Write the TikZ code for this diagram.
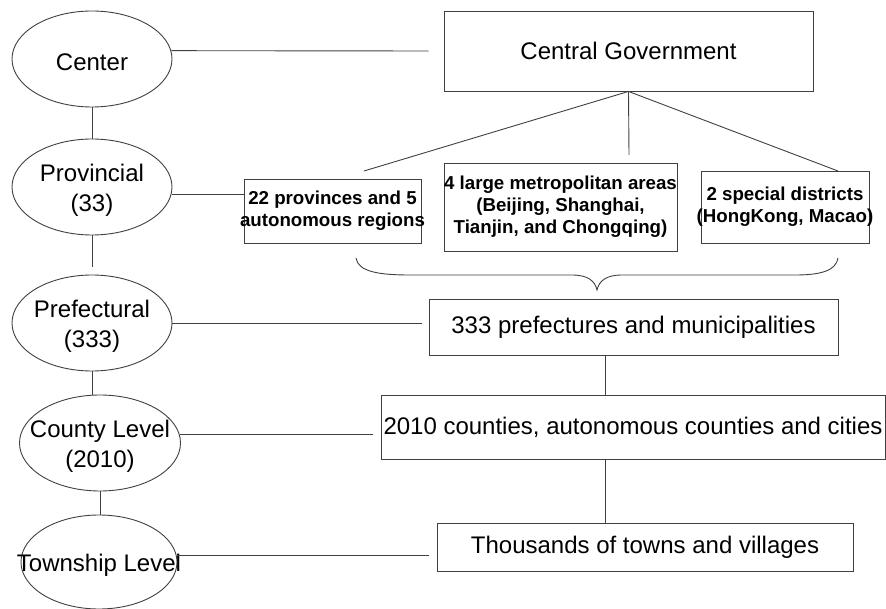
\documentclass[tikz,border=0pt]{standalone}
\usepackage{fontspec}
\setmainfont{Liberation Sans}
\usetikzlibrary{shapes.geometric,calc}
\newcommand{\dropstrut}{\rule{0pt}{24pt}}
\begin{document}
\begin{tikzpicture}[x=1pt,y=-1pt,
  line/.style={draw=black!75, line width=0.9pt},
  ell/.style={ellipse, draw=black!75, line width=0.9pt, inner sep=0pt,
    font=\fontsize{24}{30}\selectfont, align=center},
  bigbox/.style={rectangle, draw=black!75, line width=0.9pt, inner sep=0pt,
    font=\fontsize{24}{30}\selectfont},
  boldbox/.style={rectangle, draw=black!75, line width=0.9pt, inner sep=0pt,
    font=\fontsize{18.7}{22}\selectfont\bfseries, align=center}]
\useasboundingbox (0,0) rectangle (886,609);

% levels (ellipses)
\node[ell, minimum width=160pt, minimum height=96pt] (ce) at (92,59) {\dropstrut\makebox[0pt]{Center}};
\node[ell, minimum width=160pt, minimum height=96pt] (pv) at (92,187) {\dropstrut\makebox[0pt]{Provincial}\\\makebox[0pt]{(33)}};
\node[ell, minimum width=160pt, minimum height=96pt] (pf) at (92,323) {\dropstrut\makebox[0pt]{Prefectural}\\\makebox[0pt]{(333)}};
\node[ell, minimum width=161pt, minimum height=96pt] (cy) at (100,443) {\dropstrut\makebox[0pt]{County Level}\\\makebox[0pt]{(2010)}};
\node[ell, minimum width=156pt, minimum height=94pt] (tw) at (99,562) {\dropstrut\makebox[0pt]{Township Level}};

% boxes
\node[bigbox, minimum width=369pt, minimum height=80pt] (cg) at (628.5,51) {Central Government};
\node[boldbox, minimum width=177pt, minimum height=64pt] (b1) at (332.5,211)
  {\makebox[0pt]{22 provinces and 5}\\\makebox[0pt]{autonomous regions}};
\node[boldbox, minimum width=233pt, minimum height=88pt] (b2) at (560.5,207)
  {\makebox[0pt]{4 large metropolitan areas}\\\makebox[0pt]{(Beijing, Shanghai,}\\\makebox[0pt]{Tianjin, and Chongqing)}};
\node[boldbox, minimum width=168pt, minimum height=72pt] (b3) at (785,207)
  {\makebox[0pt]{2 special districts}\\\makebox[0pt]{(HongKong, Macao)}};
\node[bigbox, minimum width=409pt, minimum height=56pt] (p333) at (633.5,327) {333 prefectures and municipalities};
\node[bigbox, minimum width=504pt, minimum height=64pt] (p2010) at (633,427) {\makebox[0pt]{2010 counties, autonomous counties and cities}};
\node[bigbox, minimum width=416pt, minimum height=48pt] (tws) at (645,547) {Thousands of towns and villages};

% vertical chain of levels
\draw[line] (ce.south) -- (pv.north);
\draw[line] (pv.south) -- ([yshift=8pt]pf.north);
\draw[line] (pf.south) -- (pf.south |- cy.north);
\draw[line] (cy.south) -- (cy.south |- tw.north);

% level to box connectors
\draw[line] (ce.6) -- ([xshift=-15pt]cg.west);
\draw[line] (pv.-5) -- (pv.-5 -| b1.west);
\draw[line] (pf.east) -- ($(pf.east -| p333.west)+(-7,0)$);
\draw[line] (cy.6) -- ($(cy.6 -| p2010.west)+(-8,0)$);
\draw[line] (tw.5) -- ($(tw.5 -| tws.west)+(-8,0)$);

% fan from central government
\coordinate (f1) at (364,171);
\coordinate (f2) at (629,155);
\coordinate (f3) at (838,171);
\draw[line] (f1) -- (cg.south) -- (f3);
\draw[line] (cg.south) -- (f2);

% brace
\draw[line] (356,258) .. controls (358,272) and (380,275) .. (410,275)
  -- (572,275) .. controls (588,275) and (595,281) .. (597,290)
  .. controls (599,281) and (606,275) .. (622,275)
  -- (795,275) .. controls (820,275) and (836,271) .. (838,258);

% lower chain
\coordinate (vx) at (605,0);
\draw[line] (vx |- p333.south) -- (vx |- p2010.north);
\draw[line] (vx |- p2010.south) -- (vx |- tws.north);
\end{tikzpicture}
\end{document}
